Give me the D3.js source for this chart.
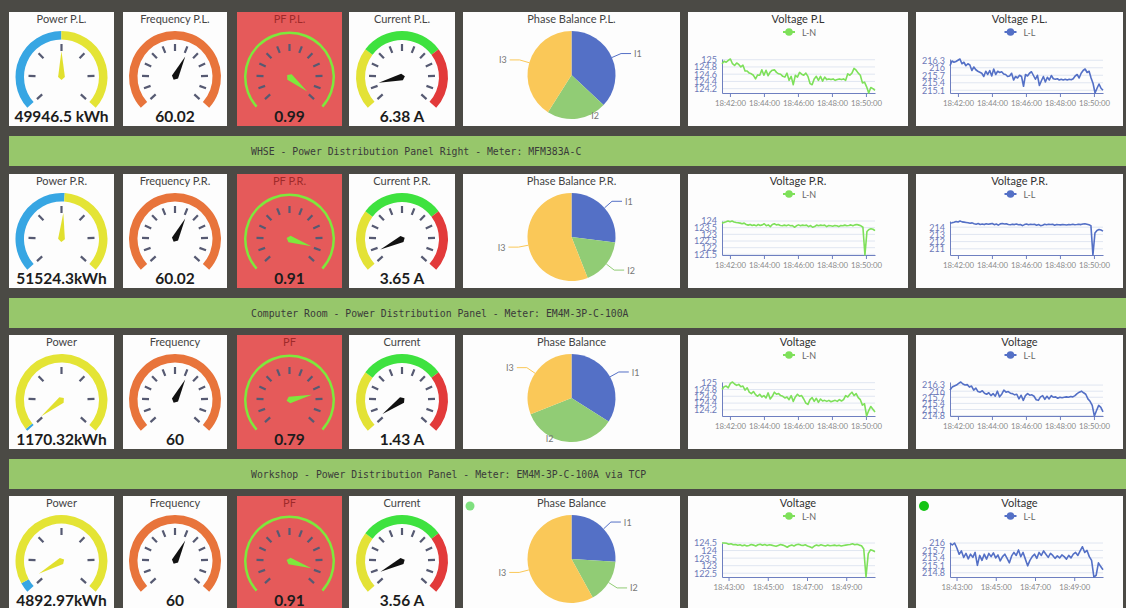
<!DOCTYPE html>
<html>
<head>
<meta charset="utf-8">
<script src="https://cdn.jsdelivr.net/npm/d3@7"></script>
<style>
  body { margin: 0; background: #4b4a45; overflow: hidden; }
  svg { display: block; }
</style>
</head>
<body>
<script>
// ---- data ----
var bannerTexts = [
  "WHSE - Power Distribution Panel Right - Meter: MFM383A-C",
  "Computer Room - Power Distribution Panel - Meter: EM4M-3P-C-100A",
  "Workshop - Power Distribution Panel - Meter: EM4M-3P-C-100A via TCP"
];

var powerTitles = ["Power P.L.", "Power P.R.", "Power", "Power"];
var powerValues = [49946.5, 51524.3, 1170.32, 4892.97];
var powerLabels = ["49946.5 kWh", "51524.3kWh", "1170.32kWh", "4892.97kWh"];
var powerMax = 100000;

var freqTitles = ["Frequency P.L.", "Frequency P.R.", "Frequency", "Frequency"];
var freqValues = [60.02, 60.02, 60, 60];
var freqLabels = ["60.02", "60.02", "60", "60"];
var freqMax = 100;

var pfTitles = ["PF P.L.", "PF P.R.", "PF", "PF"];
var pfValues = [0.99, 0.91, 0.79, 0.91];
var pfLabels = ["0.99", "0.91", "0.79", "0.91"];
var pfMax = 1;

var currentTitles = ["Current P.L.", "Current P.R.", "Current", "Current"];
var currentValues = [6.38, 3.65, 1.43, 3.56];
var currentLabels = ["6.38 A", "3.65 A", "1.43 A", "3.56 A"];
var currentMax = 60;

var phaseTitles = ["Phase Balance P.L.", "Phase Balance P.R.", "Phase Balance", "Phase Balance"];
var phaseNames = ["I1", "I2", "I3"];
var phaseValues = [
  [37, 22, 41],
  [27, 17, 56],
  [34, 35, 31],
  [26, 16, 58]
];

var lnTitles = ["Voltage P.L", "Voltage P.R.", "Voltage", "Voltage"];
var llTitles = ["Voltage P.L.", "Voltage P.R.", "Voltage", "Voltage"];

var timeStart = ["18:41:32", "18:41:32", "18:41:32", "18:42:40"];
var timeEnd = ["18:50:32", "18:50:32", "18:50:32", "18:50:28"];
var timeTicks = [
  ["18:42:00", "18:44:00", "18:46:00", "18:48:00", "18:50:00"],
  ["18:42:00", "18:44:00", "18:46:00", "18:48:00", "18:50:00"],
  ["18:42:00", "18:44:00", "18:46:00", "18:48:00", "18:50:00"],
  ["18:43:00", "18:45:00", "18:47:00", "18:49:00"]
];

var lnTicks = [
  [124.2, 124.4, 124.6, 124.8, 125],
  [121.5, 122, 122.5, 123, 123.5, 124],
  [124.2, 124.4, 124.6, 124.8, 125],
  [122.5, 123, 123.5, 124, 124.5]
];
var llTicks = [
  [215.1, 215.4, 215.7, 216, 216.3],
  [211, 212, 213, 214],
  [214.8, 215.1, 215.4, 215.7, 216, 216.3],
  [214.8, 215.1, 215.4, 215.7, 216]
];

var lnPL = [124.89, 124.96, 124.93, 124.98, 125.02, 124.89, 124.84, 124.91, 124.87, 124.80,
  124.85, 124.69, 124.69, 124.63, 124.61, 124.57, 124.47, 124.58, 124.57, 124.72,
  124.57, 124.71, 124.56, 124.66, 124.71, 124.72, 124.65, 124.61, 124.60, 124.54,
  124.52, 124.63, 124.43, 124.54, 124.31, 124.57, 124.52, 124.65, 124.60, 124.57,
  124.63, 124.54, 124.34, 124.31, 124.47, 124.54, 124.43, 124.54, 124.41, 124.52,
  124.45, 124.47, 124.45, 124.47, 124.43, 124.45, 124.47, 124.45, 124.47, 124.43,
  124.61, 124.57, 124.63, 124.76, 124.71, 124.63, 124.57, 124.36, 124.38, 124.25,
  124.08, 124.23, 124.20, 124.15];

var llPL = [216.08, 216.27, 216.22, 216.25, 216.30, 216.35, 216.16, 216.22, 216.08, 216.16,
  216.11, 215.89, 216.03, 215.92, 215.86, 215.82, 215.78, 215.65, 215.86, 215.73,
  215.89, 215.67, 215.95, 215.73, 215.86, 215.81, 215.84, 215.75, 215.73, 215.65,
  215.67, 215.78, 215.51, 215.65, 215.59, 215.70, 215.65, 215.26, 215.73, 215.67,
  215.78, 215.84, 215.69, 215.54, 215.70, 215.29, 215.48, 215.65, 215.43, 215.62,
  215.51, 215.69, 215.56, 215.54, 215.56, 215.51, 215.54, 215.51, 215.54, 215.51,
  215.54, 215.52, 215.56, 215.67, 215.73, 215.59, 215.78, 215.89, 215.95, 215.81,
  215.86, 215.59, 215.37, 214.99, 215.18, 215.35, 215.18, 215.10];

var lnPR = [123.84, 123.89, 123.94, 124.00, 123.94, 124.00, 123.92, 123.89, 123.87, 123.84,
  123.79, 123.84, 123.74, 123.69, 123.74, 123.66, 123.71, 123.64, 123.74, 123.66,
  123.71, 123.79, 123.64, 123.71, 123.58, 123.74, 123.79, 123.71, 123.74, 123.66,
  123.64, 123.69, 123.64, 123.71, 123.64, 123.66, 123.53, 123.64, 123.71, 123.64,
  123.69, 123.66, 123.69, 123.58, 123.66, 123.53, 123.58, 123.69, 123.64, 123.69,
  123.66, 123.69, 123.58, 123.66, 123.64, 123.61, 123.66, 123.64, 123.58, 123.66,
  123.64, 123.69, 123.64, 123.66, 123.71, 123.64, 123.71, 123.74, 123.69, 123.64,
  123.53, 121.45, 123.21, 123.36, 123.42, 123.38, 123.28];

var llPR = [214.55, 214.62, 214.70, 214.80, 214.72, 214.86, 214.74, 214.70, 214.66, 214.62,
  214.55, 214.60, 214.48, 214.42, 214.50, 214.38, 214.45, 214.36, 214.48, 214.40,
  214.46, 214.52, 214.35, 214.44, 214.28, 214.46, 214.52, 214.44, 214.48, 214.38,
  214.35, 214.42, 214.36, 214.44, 214.35, 214.38, 214.22, 214.36, 214.44, 214.35,
  214.40, 214.38, 214.40, 214.28, 214.38, 214.22, 214.28, 214.40, 214.35, 214.40,
  214.38, 214.40, 214.28, 214.38, 214.35, 214.32, 214.38, 214.35, 214.30, 214.38,
  214.35, 214.40, 214.35, 214.38, 214.42, 214.36, 214.44, 214.48, 214.42, 214.35,
  214.22, 210.14, 213.20, 213.55, 213.68, 213.60, 213.45];

var lnCR = [124.80, 124.88, 124.90, 124.85, 124.98, 125.02, 124.96, 124.92, 124.95, 124.88,
  124.90, 124.78, 124.85, 124.72, 124.68, 124.74, 124.65, 124.60, 124.66, 124.58,
  124.62, 124.55, 124.70, 124.52, 124.60, 124.72, 124.66, 124.68, 124.62, 124.60,
  124.55, 124.58, 124.50, 124.62, 124.45, 124.58, 124.66, 124.60, 124.62, 124.52,
  124.40, 124.36, 124.50, 124.56, 124.45, 124.54, 124.42, 124.52, 124.46, 124.48,
  124.45, 124.48, 124.44, 124.46, 124.48, 124.45, 124.50, 124.46, 124.50, 124.62,
  124.58, 124.66, 124.72, 124.62, 124.68, 124.56, 124.50, 124.34, 124.38, 124.02,
  124.18, 124.30, 124.22, 124.14];

var llCR = [216.05, 216.20, 216.25, 216.30, 216.38, 216.45, 216.35, 216.30, 216.32, 216.20,
  216.25, 216.05, 216.15, 215.98, 215.95, 216.02, 215.90, 215.85, 215.92, 215.78,
  215.88, 215.75, 216.00, 215.72, 215.85, 216.05, 215.95, 215.98, 215.90, 215.88,
  215.82, 215.85, 215.62, 215.80, 215.55, 215.78, 215.88, 215.80, 215.82, 215.75,
  215.58, 215.55, 215.72, 215.78, 215.60, 215.75, 215.62, 215.78, 215.70, 215.72,
  215.65, 215.70, 215.68, 215.70, 215.72, 215.70, 215.74, 215.72, 215.78, 215.88,
  215.95, 216.00, 215.92, 215.85, 215.62, 215.50, 215.30, 214.78, 215.05, 215.30,
  215.20, 214.98];

var lnWS = [124.50, 124.50, 124.48, 124.42, 124.45, 124.38, 124.40, 124.35, 124.38, 124.32,
  124.36, 124.30, 124.34, 124.40, 124.36, 124.30, 124.38, 124.42, 124.35, 124.40,
  124.34, 124.38, 124.36, 124.32, 124.28, 124.34, 124.40, 124.36, 124.30, 124.22,
  124.32, 124.36, 124.30, 124.38, 124.42, 124.36, 124.33, 124.38, 124.30, 124.25,
  124.18, 124.30, 124.36, 124.32, 124.38, 124.34, 124.30, 124.36, 124.32, 124.34,
  124.36, 124.32, 124.35, 124.30, 124.34, 124.36, 124.38, 124.40, 124.45, 124.38,
  124.42, 124.36, 124.32, 124.10, 122.25, 123.80, 124.05, 124.00, 123.92];

var llWS = [216.00, 215.92, 216.00, 215.80, 215.55, 215.68, 215.42, 215.58, 215.36, 215.55,
  215.42, 215.62, 215.10, 215.50, 215.30, 215.55, 215.35, 215.58, 215.45, 215.60,
  215.40, 215.52, 215.28, 215.45, 215.55, 215.38, 215.20, 215.48, 215.62, 215.50,
  215.72, 215.45, 215.62, 215.35, 215.08, 215.30, 215.45, 215.55, 215.38, 215.62,
  215.50, 215.68, 215.55, 215.42, 215.58, 215.50, 215.38, 215.48, 215.40, 215.52,
  215.45, 215.35, 215.50, 215.40, 215.55, 215.62, 215.50, 215.68, 215.85, 215.62,
  215.70, 215.45, 215.30, 214.63, 214.70, 215.20, 215.05, 214.92];

var lnSeries = [lnPL, lnPR, lnCR, lnWS];
var llSeries = [llPL, llPR, llCR, llWS];

// ---- layout ----
var W = 1126, H = 608;
var FONT = "Lato, 'Open Sans', sans-serif";
var rowTops = [12, 174, 335, 496];
var panelH = 114;
var cols = {
  power: { x: 9, w: 105 },
  freq: { x: 123, w: 104 },
  pf: { x: 237, w: 105 },
  current: { x: 349, w: 106 },
  phase: { x: 463, w: 217 },
  ln: { x: 688, w: 220 },
  ll: { x: 916, w: 207 }
};

var svg = d3.select("body").append("svg")
  .attr("width", W)
  .attr("height", H)
  .style("font-family", FONT);

svg.append("rect").attr("width", W).attr("height", H).attr("fill", "#4b4a45");

var rad = function(d) { return d * Math.PI / 180; };
var parseT = d3.timeParse("%H:%M:%S");
var fmtT = d3.timeFormat("%H:%M:%S");

// banners between rows
bannerTexts.forEach(function(t, i) {
  var y = rowTops[i] + panelH + 10;
  svg.append("rect").attr("x", 9).attr("y", y).attr("width", W - 9).attr("height", 30).attr("fill", "#97c76b");
  svg.append("text")
    .attr("x", 251).attr("y", y + 15)
    .attr("dominant-baseline", "central")
    .attr("font-family", "'DejaVu Sans Mono', monospace")
    .attr("font-size", "9.8px")
    .attr("fill", "#3a3a3a")
    .text(t);
});

// gauge panel
function gaugePanel(col, top, title, value, label, opt) {
  var g = svg.append("g").attr("transform", "translate(" + col.x + "," + top + ")");
  g.append("rect").attr("width", col.w).attr("height", panelH).attr("fill", opt.bg || "#fdfdfd");
  g.append("text")
    .attr("x", col.w / 2).attr("y", 11)
    .attr("text-anchor", "middle")
    .attr("font-size", "11px")
    .attr("fill", opt.titleColor || "#444")
    .text(title);

  var c = g.append("g").attr("transform", "translate(" + (col.w / 2) + ",65)");
  var ang = d3.scaleLinear().domain([0, opt.max]).range([-132, 132]).clamp(true);

  opt.bands.forEach(function(b) {
    c.append("path")
      .attr("d", d3.arc()
        .innerRadius(opt.r0).outerRadius(opt.r1)
        .startAngle(rad(ang(b[0]))).endAngle(rad(ang(b[1])))())
      .attr("fill", b[2]);
  });

  var tickVals = d3.range(opt.ticks).map(function(i) { return opt.max * i / (opt.ticks - 1); });
  c.selectAll("line.tk").data(tickVals).enter().append("line")
    .attr("class", "tk")
    .attr("x1", 0).attr("x2", 0)
    .attr("y1", -26).attr("y2", -33)
    .attr("transform", function(d) { return "rotate(" + ang(d) + ")"; })
    .attr("stroke", "#565a72")
    .attr("stroke-width", 2.2);

  c.append("path")
    .attr("d", "M-3.4,0 L0," + (-opt.needle) + " L3.4,0 L0,3 Z")
    .attr("transform", "rotate(" + ang(value) + ")")
    .attr("fill", opt.needleColor);

  g.append("text")
    .attr("x", col.w / 2).attr("y", 110)
    .attr("text-anchor", "middle")
    .attr("font-size", "15.5px")
    .attr("font-weight", "bold")
    .attr("fill", "#1c1c1c")
    .text(label);
}

// pie panel
function piePanel(col, top, title, vals, dot) {
  var g = svg.append("g").attr("transform", "translate(" + col.x + "," + top + ")");
  g.append("rect").attr("width", col.w).attr("height", panelH).attr("fill", "#fdfdfd");
  g.append("text")
    .attr("x", col.w / 2).attr("y", 11)
    .attr("text-anchor", "middle")
    .attr("font-size", "11px")
    .attr("fill", "#444")
    .text(title);
  if (dot) g.append("circle").attr("cx", 7).attr("cy", 10).attr("r", 4.5).attr("fill", "#7fe07f");

  var colors = d3.scaleOrdinal().domain(phaseNames).range(["#5470c6", "#91cc75", "#fac858"]);
  var r = 44;
  var c = g.append("g").attr("transform", "translate(" + (col.w / 2) + ",63)");
  var arcs = d3.pie().sort(null)(vals);
  c.selectAll("path").data(arcs).enter().append("path")
    .attr("d", d3.arc().innerRadius(0).outerRadius(r))
    .attr("fill", function(d, i) { return colors(phaseNames[i]); });

  arcs.forEach(function(a, i) {
    var mid = (a.startAngle + a.endAngle) / 2;
    var sx = Math.sin(mid), sy = -Math.cos(mid);
    var side = sx >= 0 ? 1 : -1;
    var p1 = [sx * r, sy * r], p2 = [sx * (r + 10), sy * (r + 10)];
    var clamped = p2[1] > 40;
    if (clamped) p2[1] = 40;
    var p3 = [p2[0] + side * 10, p2[1]];
    if (!clamped) {
      c.append("path")
        .attr("d", d3.line()([p1, p2, p3]))
        .attr("fill", "none")
        .attr("stroke", colors(phaseNames[i]))
        .attr("stroke-width", 1);
    }
    c.append("text")
      .attr("x", p3[0] + side * 3).attr("y", p3[1])
      .attr("text-anchor", side > 0 ? "start" : "end")
      .attr("dominant-baseline", "central")
      .attr("font-size", "9px")
      .attr("fill", "#777")
      .text(phaseNames[i]);
  });
}

// voltage line panel
function linePanel(col, top, title, name, color, values, yTicks, t0, t1, xTicks, dot) {
  var g = svg.append("g").attr("transform", "translate(" + col.x + "," + top + ")");
  g.append("rect").attr("width", col.w).attr("height", panelH).attr("fill", "#fdfdfd");
  g.append("text")
    .attr("x", col.w / 2).attr("y", 11)
    .attr("text-anchor", "middle")
    .attr("font-size", "11px")
    .attr("fill", "#333")
    .text(title);
  if (dot) g.append("circle").attr("cx", 8).attr("cy", 10).attr("r", 5).attr("fill", "#14c414");

  var lg = g.append("g").attr("transform", "translate(" + (col.w / 2) + ",20)");
  lg.append("line").attr("x1", -15).attr("x2", -3).attr("stroke", color).attr("stroke-width", 2);
  lg.append("circle").attr("cx", -9).attr("r", 3.8).attr("fill", color);
  lg.append("text")
    .attr("x", 4).attr("dominant-baseline", "central")
    .attr("font-size", "9px").attr("fill", "#666")
    .text(name);

  var pw = 153, ph = 34;
  var plot = g.append("g").attr("transform", "translate(34,47)");
  var start = parseT(t0), end = parseT(t1);
  var n = values.length;
  var pts = values.map(function(v, i) {
    return { t: new Date(+start + i * (end - start) / (n - 1)), v: v };
  });

  var x = d3.scaleTime().domain([start, end]).range([0, pw]);
  var y = d3.scaleLinear().domain(d3.extent(values)).range([ph, 0]);

  plot.selectAll("line.grid").data(yTicks).enter().append("line")
    .attr("class", "grid")
    .attr("x1", 0).attr("x2", pw)
    .attr("y1", function(d) { return y(d); })
    .attr("y2", function(d) { return y(d); })
    .attr("stroke", "#e0e6f1")
    .attr("stroke-width", 1);

  var yAxis = plot.append("g")
    .call(d3.axisLeft(y).tickValues(yTicks).tickSize(0).tickPadding(5).tickFormat(function(d) { return String(d); }));
  yAxis.select(".domain").attr("stroke", "#6e7fc0");
  yAxis.selectAll("text").attr("fill", "#6c79b8").attr("font-size", "9px").attr("font-family", FONT);

  var xAxis = plot.append("g")
    .attr("transform", "translate(0," + ph + ")")
    .call(d3.axisBottom(x).tickValues(xTicks.map(parseT)).tickSize(4).tickSizeOuter(0).tickPadding(3).tickFormat(fmtT));
  xAxis.select(".domain").attr("stroke", "#6e7fc0");
  xAxis.selectAll(".tick line").attr("stroke", "#6e7fc0");
  xAxis.selectAll("text").attr("fill", "#8a8a8a").attr("font-size", "7.8px").attr("font-family", FONT);

  plot.append("path")
    .datum(pts)
    .attr("d", d3.line().x(function(d) { return x(d.t); }).y(function(d) { return y(d.v); }))
    .attr("fill", "none")
    .attr("stroke", color)
    .attr("stroke-width", 1.6)
    .attr("stroke-linejoin", "round");
}

// draw rows
rowTops.forEach(function(top, i) {
  var pv = powerValues[i];
  gaugePanel(cols.power, top, powerTitles[i], pv, powerLabels[i], {
    max: powerMax, r0: 37.5, r1: 46, ticks: 7, needle: 26, needleColor: "#e1e02e",
    bands: [[0, pv, "#37a6e3"], [pv, powerMax, "#e4e435"]]
  });
  gaugePanel(cols.freq, top, freqTitles[i], freqValues[i], freqLabels[i], {
    max: freqMax, r0: 37.5, r1: 46, ticks: 13, needle: 23, needleColor: "#111",
    bands: [[0, freqMax, "#e8743b"]]
  });
  gaugePanel(cols.pf, top, pfTitles[i], pfValues[i], pfLabels[i], {
    max: pfMax, r0: 43, r1: 45.5, ticks: 13, needle: 23, needleColor: "#7ee83c",
    bg: "#e55a5a", titleColor: "#9e2a2a",
    bands: [[0, pfMax, "#7ee83c"]]
  });
  gaugePanel(cols.current, top, currentTitles[i], currentValues[i], currentLabels[i], {
    max: currentMax, r0: 37, r1: 46, ticks: 13, needle: 24, needleColor: "#111",
    bands: [[0, currentMax * 0.3, "#e3e236"], [currentMax * 0.3, currentMax * 0.7, "#3ee23f"], [currentMax * 0.7, currentMax, "#e23a3a"]]
  });
  piePanel(cols.phase, top, phaseTitles[i], phaseValues[i], i === 3);
  linePanel(cols.ln, top, lnTitles[i], "L-N", "#7ee05a", lnSeries[i], lnTicks[i],
    timeStart[i], timeEnd[i], timeTicks[i], false);
  linePanel(cols.ll, top, llTitles[i], "L-L", "#5470c6", llSeries[i], llTicks[i],
    timeStart[i], timeEnd[i], timeTicks[i], i === 3);
});
</script>
</body>
</html>
